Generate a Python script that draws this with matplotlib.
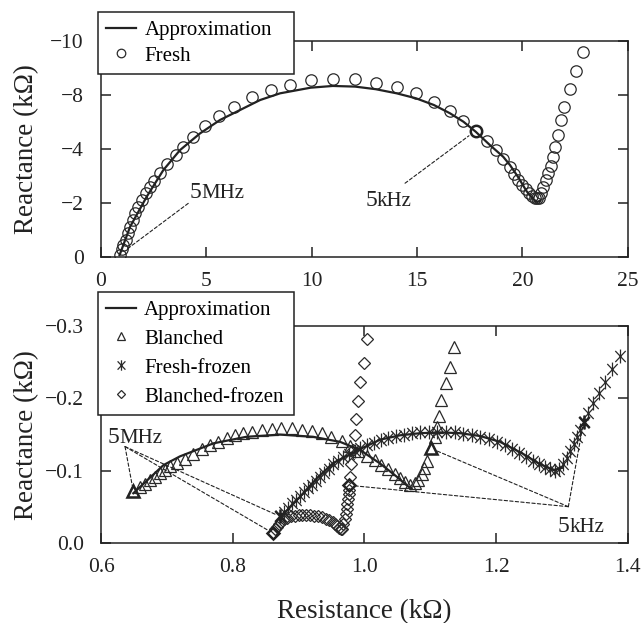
import matplotlib
matplotlib.use("Agg")
import matplotlib.pyplot as plt
from matplotlib.path import Path

plt.rcParams['font.family'] = ['Liberation Serif', 'DejaVu Serif']
plt.rcParams['axes.unicode_minus'] = True

INK = '#222222'

# ---- top panel: fresh sample (kOhm) ----
fresh_r = [0.88, 0.98, 1.06, 1.17, 1.27, 1.38, 1.50, 1.61, 1.77, 1.93, 2.14, 2.33, 2.52, 2.80,
           3.15, 3.56, 3.91, 4.38, 4.95, 5.61, 6.31, 7.18, 8.05, 8.95, 9.95, 11.0, 12.06, 13.04,
           14.03, 14.95, 15.80, 16.56, 17.20, 17.78, 18.31, 18.75, 19.10, 19.40, 19.62, 19.80,
           19.98, 20.15, 20.30, 20.45, 20.58, 20.68, 20.78, 20.87, 20.98, 21.10, 21.22, 21.34,
           21.45, 21.55, 21.69, 21.84, 21.98, 22.27, 22.53, 22.86]
fresh_x = [-0.12, -0.37, -0.57, -0.80, -1.11, -1.41, -1.72, -2.03, -2.34, -2.65, -2.95, -3.26,
           -3.54, -3.88, -4.31, -4.72, -5.11, -5.57, -6.06, -6.52, -6.95, -7.41, -7.72, -7.95,
           -8.19, -8.23, -8.23, -8.06, -7.85, -7.57, -7.18, -6.75, -6.31, -5.84, -5.38, -4.97,
           -4.52, -4.15, -3.85, -3.58, -3.35, -3.15, -2.98, -2.85, -2.76, -2.72, -2.76, -2.98,
           -3.25, -3.56, -3.90, -4.22, -4.63, -5.09, -5.63, -6.32, -6.96, -7.78, -8.59, -9.49]
fresh_5mhz = 0
fresh_5khz = 33

approx_fresh_r = [0.88, 1.38, 2.17, 2.96, 3.75, 4.70, 5.65, 6.60, 7.55, 8.50, 9.95, 11.0, 12.06,
                  13.04, 14.03, 14.95, 15.80, 16.56, 17.20, 17.78, 18.46, 19.09, 19.41, 19.80,
                  20.20, 20.50, 20.70, 20.85]
approx_fresh_x = [-0.10, -1.41, -2.80, -4.03, -4.95, -5.72, -6.34, -6.80, -7.26, -7.57, -7.83,
                  -7.91, -7.88, -7.76, -7.57, -7.34, -7.03, -6.65, -6.26, -5.80, -5.18, -4.64,
                  -4.26, -3.70, -3.05, -2.70, -2.55, -2.62]

top_yticks = [0, -2.5, -5, -7.5, -10]
top_ylabels = ['0', '\u22122', '\u22124', '\u22128', '\u221210']

# ---- bottom panel: treated samples (kOhm) ----
blanched_r = [0.649, 0.659, 0.667, 0.674, 0.682, 0.690, 0.697, 0.705, 0.715, 0.728, 0.740, 0.753,
              0.766, 0.778, 0.791, 0.804, 0.816, 0.830, 0.844, 0.859, 0.874, 0.890, 0.905, 0.920,
              0.935, 0.950, 0.966, 0.978, 0.991, 1.004, 1.016, 1.026, 1.036, 1.046, 1.054, 1.062,
              1.069, 1.077, 1.082, 1.087, 1.091, 1.095, 1.101, 1.107, 1.110, 1.113, 1.117, 1.124,
              1.130, 1.136]
blanched_x = [-0.072, -0.077, -0.082, -0.087, -0.092, -0.097, -0.101, -0.106, -0.111, -0.116,
              -0.123, -0.130, -0.136, -0.140, -0.145, -0.149, -0.152, -0.154, -0.156, -0.158,
              -0.159, -0.159, -0.157, -0.155, -0.152, -0.147, -0.141, -0.134, -0.127, -0.121,
              -0.115, -0.108, -0.102, -0.096, -0.090, -0.085, -0.080, -0.083, -0.088, -0.096,
              -0.104, -0.113, -0.131, -0.147, -0.161, -0.175, -0.198, -0.221, -0.243, -0.271]
blanched_5mhz = 0
blanched_5khz = 42

approx_blanched_r = [0.649, 0.695, 0.720, 0.771, 0.821, 0.872, 0.922, 0.963, 0.993, 1.024, 1.049,
                     1.067, 1.072]
approx_blanched_x = [-0.069, -0.108, -0.120, -0.138, -0.147, -0.150, -0.147, -0.140, -0.129,
                     -0.110, -0.092, -0.078, -0.076]

ffrozen_r = [0.872, 0.878, 0.884, 0.890, 0.896, 0.902, 0.908, 0.914, 0.920, 0.926, 0.932, 0.939,
             0.946, 0.953, 0.960, 0.968, 0.976, 0.985, 0.994, 1.004, 1.014, 1.025, 1.036, 1.048,
             1.060, 1.072, 1.085, 1.098, 1.111, 1.124, 1.137, 1.150, 1.163, 1.176, 1.189, 1.201,
             1.213, 1.224, 1.235, 1.246, 1.256, 1.265, 1.274, 1.282, 1.289, 1.296, 1.302, 1.308,
             1.313, 1.318, 1.323, 1.328, 1.333, 1.340, 1.348, 1.357, 1.366, 1.376, 1.388]
ffrozen_x = [-0.037, -0.043, -0.049, -0.055, -0.060, -0.065, -0.071, -0.076, -0.081, -0.086,
             -0.091, -0.097, -0.103, -0.109, -0.114, -0.119, -0.123, -0.127, -0.131, -0.135,
             -0.139, -0.143, -0.146, -0.148, -0.150, -0.152, -0.153, -0.154, -0.154, -0.154,
             -0.153, -0.151, -0.149, -0.147, -0.144, -0.140, -0.135, -0.130, -0.125, -0.119,
             -0.114, -0.109, -0.105, -0.102, -0.100, -0.103, -0.110, -0.118, -0.127, -0.137,
             -0.147, -0.157, -0.168, -0.180, -0.193, -0.207, -0.222, -0.240, -0.258]
ffrozen_5mhz = 0
ffrozen_5khz = 52

approx_ffrozen_r = [0.872, 0.902, 0.928, 0.953, 0.991, 1.024, 1.054, 1.085, 1.115, 1.145, 1.176,
                    1.206, 1.240, 1.265, 1.287, 1.300]
approx_ffrozen_x = [-0.035, -0.064, -0.090, -0.111, -0.129, -0.143, -0.149, -0.152, -0.153,
                    -0.152, -0.148, -0.140, -0.124, -0.110, -0.101, -0.104]

bfrozen_r = [0.861, 0.864, 0.867, 0.870, 0.874, 0.878, 0.883, 0.888, 0.894, 0.900, 0.906, 0.912,
             0.918, 0.924, 0.930, 0.936, 0.942, 0.947, 0.952, 0.956, 0.959, 0.962, 0.964, 0.966,
             0.968, 0.970, 0.972, 0.973, 0.974, 0.975, 0.976, 0.976, 0.977, 0.978, 0.979, 0.982,
             0.986, 0.987, 0.991, 0.994, 0.999, 1.004]
bfrozen_x = [-0.014, -0.019, -0.023, -0.027, -0.030, -0.033, -0.035, -0.037, -0.038, -0.039,
             -0.039, -0.039, -0.039, -0.038, -0.037, -0.036, -0.034, -0.032, -0.030, -0.027,
             -0.024, -0.021, -0.019, -0.020, -0.026, -0.033, -0.040, -0.047, -0.054, -0.061,
             -0.068, -0.074, -0.080, -0.092, -0.110, -0.129, -0.150, -0.172, -0.196, -0.222,
             -0.249, -0.282]
bfrozen_5mhz = 0
bfrozen_5khz = 32

bottom_xticks = [0.6, 0.8, 1.0, 1.2, 1.4]
bottom_yticks = [0.0, -0.1, -0.2, -0.3]

# asterisk: vertical bar plus an X
ASTERISK = Path([(0, -1), (0, 1), (-0.75, -0.8), (0.75, 0.8), (-0.75, 0.8), (0.75, -0.8)],
                [Path.MOVETO, Path.LINETO] * 3)

MK = dict(ls='none', mfc='none', mec='#2a2a2a', mew=0.9)


def style_axes(ax):
    for s in ax.spines.values():
        s.set_linewidth(1.1)
        s.set_color(INK)
    ax.tick_params(direction='in', length=7, width=1.1, color=INK, labelsize=15.5,
                   labelcolor=INK, top=True, right=True)
    ax.tick_params(axis='x', pad=10.5)
    ax.tick_params(axis='y', pad=12.5)


def freq_label(ax, x, y, unit):
    ax.text(x, y, '5', fontsize=17, ha='right', va='baseline', color=INK)
    ax.text(x, y, unit, fontsize=15, ha='left', va='baseline', color=INK)


def leader(ax, start, end, shrink=4):
    ax.annotate('', xy=end, xytext=start,
                arrowprops=dict(arrowstyle='-', ls=(0, (3, 2)), lw=0.8, color=INK,
                                shrinkA=0, shrinkB=shrink))


def add_legend(ax, handles, top_px, bottom_px, spacing, pad):
    leg = ax.legend(handles=handles, loc='upper left', mode='expand',
                    bbox_to_anchor=(97.7 / 641, 1 - bottom_px / 623, 196.3 / 641,
                                    (bottom_px - top_px) / 623),
                    bbox_transform=fig.transFigure, borderaxespad=0, fontsize=15,
                    fancybox=False, edgecolor=INK, framealpha=1, handlelength=1.45,
                    handletextpad=0.4, labelspacing=spacing, borderpad=pad, markerscale=0.75)
    leg.get_frame().set_linewidth(1.1)
    return leg


fig = plt.figure(figsize=(6.41, 6.23), dpi=100)
ax1 = fig.add_axes([0.1576, 0.587, 0.8217, 0.3477])
ax2 = fig.add_axes([0.1576, 0.128, 0.8217, 0.3488])

# ---- top ----
l_app, = ax1.plot(approx_fresh_r, approx_fresh_x, color=INK, lw=1.6, label='Approximation', zorder=3)
l_fresh, = ax1.plot(fresh_r, fresh_x, marker='o', ms=8.2, label='Fresh', zorder=2, **MK)
ax1.plot(fresh_r[fresh_5khz], fresh_x[fresh_5khz], marker='o', ms=8.2, ls='none', mfc='none',
         mec=INK, mew=1.8, zorder=4)
ax1.set_xlim(0, 25)
ax1.set_ylim(0, -10)
ax1.set_xticks([0, 5, 10, 15, 20, 25])
ax1.set_yticks(top_yticks)
ax1.set_yticklabels(top_ylabels)
style_axes(ax1)

freq_label(ax1, 4.75, -2.75, 'MHz')
freq_label(ax1, 13.1, -2.38, 'kHz')
leader(ax1, (4.14, -2.49), (fresh_r[fresh_5mhz], fresh_x[fresh_5mhz]), shrink=6)
leader(ax1, (14.43, -3.42), (fresh_r[fresh_5khz], fresh_x[fresh_5khz]), shrink=6)

add_legend(ax1, [l_app, l_fresh], 12.3, 70, 0.28, 0.4)

# ---- bottom ----
l_app2, = ax2.plot(approx_blanched_r, approx_blanched_x, color=INK, lw=1.6, zorder=3,
                   label='Approximation')
ax2.plot(approx_ffrozen_r, approx_ffrozen_x, color=INK, lw=1.6, zorder=3)
l_bl, = ax2.plot(blanched_r, blanched_x, marker='^', ms=8.5, label='Blanched', zorder=2, **MK)
l_ff, = ax2.plot(ffrozen_r, ffrozen_x, marker=ASTERISK, ms=10, label='Fresh-frozen', zorder=2,
                 **MK)
l_bf, = ax2.plot(bfrozen_r, bfrozen_x, marker='D', ms=6, label='Blanched-frozen', zorder=2,
                 **MK)

bold = dict(ls='none', mfc='none', mec=INK, mew=1.8, zorder=4)
ax2.plot([blanched_r[blanched_5mhz], blanched_r[blanched_5khz]],
         [blanched_x[blanched_5mhz], blanched_x[blanched_5khz]], marker='^', ms=8.5, **bold)
ax2.plot([ffrozen_r[ffrozen_5mhz], ffrozen_r[ffrozen_5khz]],
         [ffrozen_x[ffrozen_5mhz], ffrozen_x[ffrozen_5khz]], marker=ASTERISK, ms=10, **bold)
ax2.plot([bfrozen_r[bfrozen_5mhz], bfrozen_r[bfrozen_5khz]],
         [bfrozen_x[bfrozen_5mhz], bfrozen_x[bfrozen_5khz]], marker='D', ms=6, **bold)

ax2.set_xlim(0.6, 1.4)
ax2.set_ylim(0, -0.3)
ax2.set_xticks(bottom_xticks)
ax2.set_xticklabels([f'{v:.1f}' for v in bottom_xticks])
ax2.set_yticks(bottom_yticks)
ax2.set_yticklabels(['0.0', '\u22120.1', '\u22120.2', '\u22120.3'])
style_axes(ax2)

freq_label(ax2, 0.6273, -0.1389, 'MHz')
freq_label(ax2, 1.3116, -0.016, 'kHz')
mhz_origin = (0.6365, -0.1334)
leader(ax2, mhz_origin, (blanched_r[blanched_5mhz], blanched_x[blanched_5mhz]))
leader(ax2, mhz_origin, (ffrozen_r[ffrozen_5mhz], ffrozen_x[ffrozen_5mhz]))
leader(ax2, mhz_origin, (bfrozen_r[bfrozen_5mhz], bfrozen_x[bfrozen_5mhz]))
khz_origin = (1.3098, -0.0505)
leader(ax2, khz_origin, (ffrozen_r[ffrozen_5khz], ffrozen_x[ffrozen_5khz]))
leader(ax2, khz_origin, (blanched_r[blanched_5khz], blanched_x[blanched_5khz]))
leader(ax2, khz_origin, (bfrozen_r[bfrozen_5khz], bfrozen_x[bfrozen_5khz]))

add_legend(ax2, [l_app2, l_bl, l_ff, l_bf], 292.3, 410, 0.45, 0.38)

# axis titles
fig.text(27 / 641, 1 - 149 / 623, 'Reactance (k\u03a9)', rotation=90, ha='center', va='center',
         fontsize=19.5, color=INK)
fig.text(27 / 641, 1 - 434.7 / 623, 'Reactance (k\u03a9)', rotation=90, ha='center', va='center',
         fontsize=19.5, color=INK)
fig.text(363.8 / 641, 1 - 611.7 / 623, 'Resistance (k\u03a9)', ha='center', va='center',
         fontsize=19.5, color=INK)

fig.savefig('out.png', dpi=100)
